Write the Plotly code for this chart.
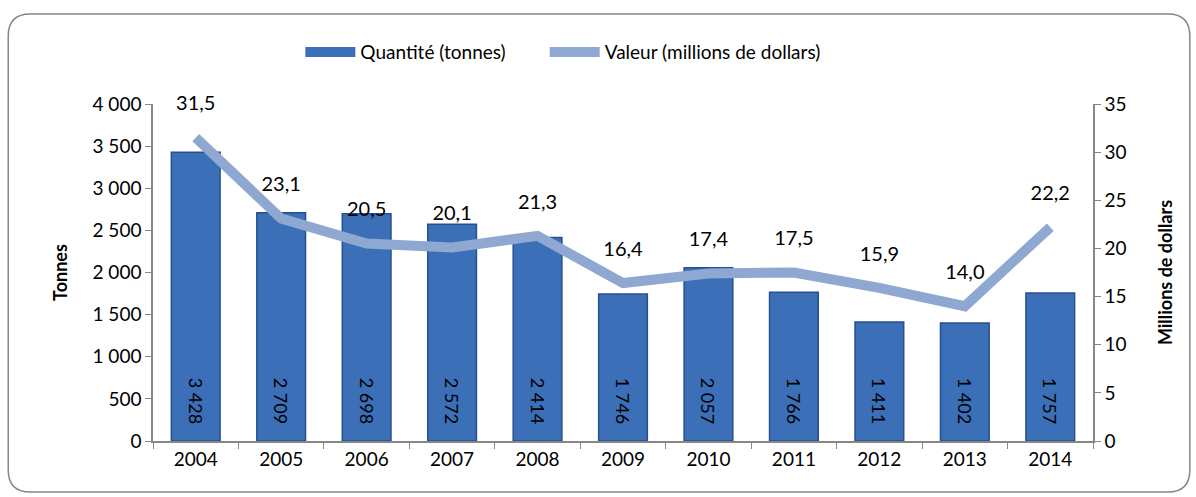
"""Quantité et valeur, 2004-2014."""

import plotly.graph_objects as go

annees = ["2004", "2005", "2006", "2007", "2008", "2009", "2010", "2011", "2012", "2013", "2014"]
quantite = [3428, 2709, 2698, 2572, 2414, 1746, 2057, 1766, 1411, 1402, 1757]
valeur = [31.5, 23.1, 20.5, 20.1, 21.3, 16.4, 17.4, 17.5, 15.9, 14.0, 22.2]

FONT = "Lato, Open Sans, sans-serif"
BLEU = "#3b6fb8"

fig = go.Figure()

fig.add_trace(go.Bar(
    x=annees,
    y=quantite,
    name="Quantité (tonnes)",
    showlegend=False,
    marker=dict(color=BLEU, line=dict(color="#27508c", width=1.5)),
    texttemplate="%{y:,d}&nbsp;&nbsp;&nbsp;",
    textposition="inside",
    insidetextanchor="start",
    textangle=90,
    textfont=dict(size=18, color="black", family=FONT),
))

# entrée de légende en forme de barre large
fig.add_trace(go.Scatter(
    x=[None], y=[None],
    name="Quantité (tonnes)" + "&nbsp;" * 7,
    mode="lines",
    line=dict(color=BLEU, width=11),
))

fig.add_trace(go.Scatter(
    x=annees,
    y=valeur,
    yaxis="y2",
    name="Valeur (millions de dollars)",
    mode="lines+markers+text",
    line=dict(color="#8ea8d2", width=10),
    marker=dict(size=34, color="rgba(0,0,0,0)"),
    texttemplate="%{y:.1f}",
    textposition="top center",
    textfont=dict(size=20, color="black", family=FONT),
    cliponaxis=False,
))

# cadre arrondi autour du graphique
x0, x1, y0, y1 = -0.154, 1.103, -0.151, 1.267
rx, ry = 22 / 940, 22 / 337
cadre = (
    f"M {x0 + rx} {y0} L {x1 - rx} {y0} Q {x1} {y0} {x1} {y0 + ry} "
    f"L {x1} {y1 - ry} Q {x1} {y1} {x1 - rx} {y1} "
    f"L {x0 + rx} {y1} Q {x0} {y1} {x0} {y1 - ry} "
    f"L {x0} {y0 + ry} Q {x0} {y0} {x0 + rx} {y0} Z"
)

axe = dict(
    showline=True, linecolor="#868686", linewidth=1.5,
    ticks="outside", tickcolor="#868686", ticklen=6,
    showgrid=False, zeroline=False, automargin=False,
    tickfont=dict(size=19),
)

fig.update_layout(
    width=1196,
    height=497,
    margin=dict(l=153, r=103, t=104, b=56, autoexpand=False),
    paper_bgcolor="white",
    plot_bgcolor="white",
    separators=", ",
    font=dict(family=FONT, size=18, color="black"),
    bargap=0.43,
    showlegend=True,
    legend=dict(
        orientation="h",
        x=0.436, xanchor="center",
        y=1.154, yanchor="middle",
        font=dict(size=19),
        itemwidth=50,
        traceorder="normal",
    ),
    xaxis=dict(axe, tickson="boundaries", range=[-0.5, len(annees) - 0.5]),
    yaxis=dict(
        axe, range=[0, 4000], dtick=500, tickformat=",d",
        title=dict(text="<b>Tonnes</b>", font=dict(size=18), standoff=20),
    ),
    yaxis2=dict(
        axe, range=[0, 35], dtick=5, overlaying="y", side="right",
        title=dict(text="<b>Millions de dollars</b>", font=dict(size=18), standoff=34),
    ),
    shapes=[dict(
        type="path", path=cadre, xref="paper", yref="paper",
        line=dict(color="#868686", width=1.5), layer="below",
    )],
)

fig.write_html(
    "out.html",
    config={"displayModeBar": False},
    post_script="document.body.style.margin = '0';",
)
